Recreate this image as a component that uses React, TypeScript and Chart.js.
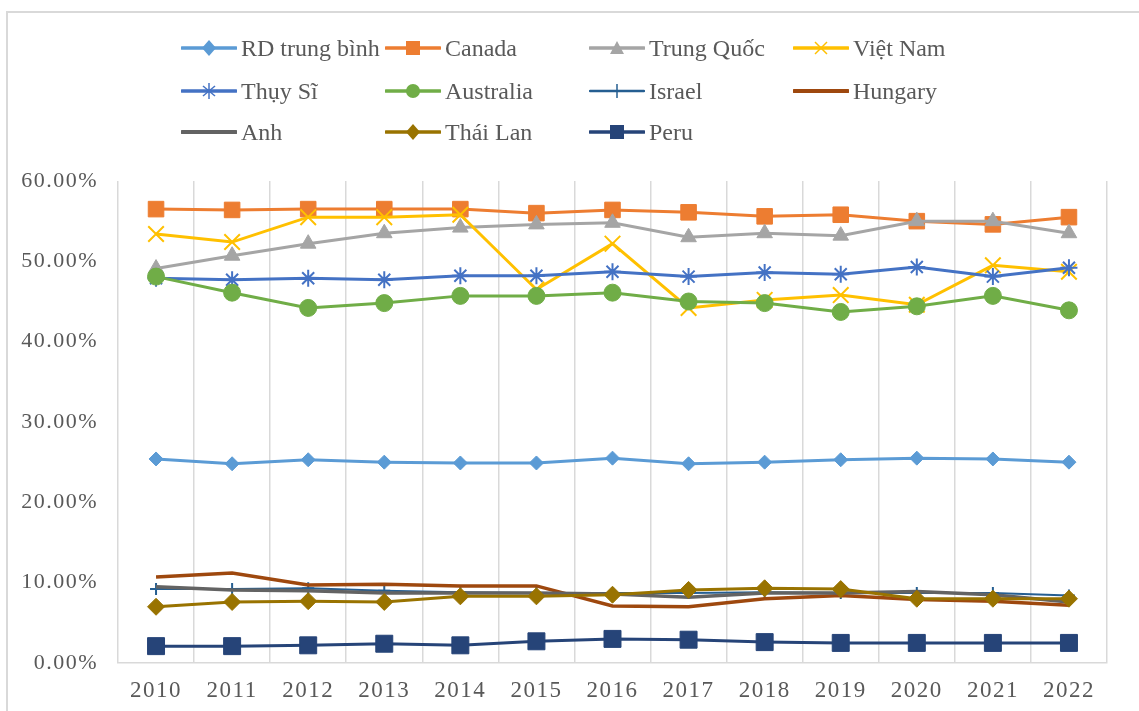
import React, { useEffect, useRef } from "react";
import { Chart, registerables } from "chart.js";

Chart.register(...registerables);

const years = ["2010", "2011", "2012", "2013", "2014", "2015", "2016", "2017", "2018", "2019", "2020", "2021", "2022"];

const rdTrungBinh = [25.4, 24.8, 25.3, 25.0, 24.9, 24.9, 25.5, 24.8, 25.0, 25.3, 25.5, 25.4, 25.0];
const canada = [56.5, 56.4, 56.5, 56.5, 56.5, 56.0, 56.4, 56.1, 55.6, 55.8, 55.0, 54.6, 55.5];
const trungQuoc = [49.1, 50.7, 52.2, 53.5, 54.2, 54.6, 54.8, 53.0, 53.5, 53.2, 55.0, 55.0, 53.5];
const vietNam = [53.4, 52.4, 55.5, 55.5, 55.8, 46.5, 52.2, 44.2, 45.2, 45.8, 44.6, 49.5, 48.7];
const thuySi = [47.9, 47.7, 47.9, 47.7, 48.2, 48.2, 48.7, 48.1, 48.6, 48.4, 49.3, 48.1, 49.2];
const australia = [48.1, 46.1, 44.2, 44.8, 45.7, 45.7, 46.1, 45.0, 44.8, 43.7, 44.4, 45.7, 43.9];
const israel = [9.2, 9.2, 9.3, 9.0, 8.8, 8.7, 8.7, 8.7, 8.8, 8.7, 8.7, 8.7, 8.4];
const hungary = [10.7, 11.2, 9.7, 9.8, 9.6, 9.6, 7.1, 7.0, 8.0, 8.4, 7.9, 7.7, 7.2];
const anh = [9.5, 9.1, 9.0, 8.7, 8.7, 8.7, 8.6, 8.2, 8.7, 8.7, 8.9, 8.5, 7.6];
const thaiLan = [7.0, 7.6, 7.7, 7.6, 8.3, 8.3, 8.5, 9.1, 9.3, 9.2, 8.0, 8.0, 8.0];
const peru = [2.1, 2.1, 2.2, 2.4, 2.2, 2.7, 3.0, 2.9, 2.6, 2.5, 2.5, 2.5, 2.5];

const yTicks = [0, 10, 20, 30, 40, 50, 60];

type Series = { label: string; data: number[]; color: string; style: string; radius: number; width: number };

const seriesList: Series[] = [
  { label: "RD trung bình", data: rdTrungBinh, color: "#5B9BD5", style: "rectRot", radius: 7, width: 3 },
  { label: "Canada", data: canada, color: "#ED7D31", style: "rect", radius: 11, width: 3 },
  { label: "Trung Quốc", data: trungQuoc, color: "#A5A5A5", style: "triangle", radius: 9, width: 3 },
  { label: "Việt Nam", data: vietNam, color: "#FFC000", style: "crossRot", radius: 11, width: 3 },
  { label: "Thụy Sĩ", data: thuySi, color: "#4472C4", style: "star", radius: 8.5, width: 3 },
  { label: "Australia", data: australia, color: "#70AD47", style: "circle", radius: 8.5, width: 3 },
  { label: "Israel", data: israel, color: "#255E91", style: "cross", radius: 6, width: 2 },
  { label: "Hungary", data: hungary, color: "#9E480E", style: "line", radius: 0, width: 3.5 },
  { label: "Anh", data: anh, color: "#636363", style: "line", radius: 0, width: 3.5 },
  { label: "Thái Lan", data: thaiLan, color: "#997300", style: "rectRot", radius: 8.5, width: 3 },
  { label: "Peru", data: peru, color: "#264478", style: "rect", radius: 12, width: 3 },
];

const FONT = "'Liberation Serif', 'Times New Roman', serif";
const TEXT = "#595959";
const GRID = "#D9D9D9";

function Swatch({ s }: { s: Series }) {
  const cx = 28, cy = 15;
  const c = s.color;
  let marker: React.ReactNode = null;
  if (s.style === "rectRot") {
    marker = <polygon points={`${cx},${cy - 8} ${cx + 7},${cy} ${cx},${cy + 8} ${cx - 7},${cy}`} fill={c} />;
  } else if (s.style === "rect") {
    marker = <rect x={cx - 7} y={cy - 7} width={14} height={14} fill={c} />;
  } else if (s.style === "triangle") {
    marker = <polygon points={`${cx},${cy - 7} ${cx + 7},${cy + 6} ${cx - 7},${cy + 6}`} fill={c} />;
  } else if (s.style === "crossRot") {
    marker = (
      <g stroke={c} strokeWidth={1.5}>
        <line x1={cx - 6} y1={cy - 6} x2={cx + 6} y2={cy + 6} />
        <line x1={cx - 6} y1={cy + 6} x2={cx + 6} y2={cy - 6} />
      </g>
    );
  } else if (s.style === "star") {
    marker = (
      <g stroke={c} strokeWidth={1.5}>
        <line x1={cx} y1={cy - 8} x2={cx} y2={cy + 8} />
        <line x1={cx - 6} y1={cy - 5} x2={cx + 6} y2={cy + 5} />
        <line x1={cx - 6} y1={cy + 5} x2={cx + 6} y2={cy - 5} />
      </g>
    );
  } else if (s.style === "circle") {
    marker = <circle cx={cx} cy={cy} r={7} fill={c} />;
  } else if (s.style === "cross") {
    marker = <line x1={cx} y1={cy - 7} x2={cx} y2={cy + 7} stroke={c} strokeWidth={1.5} />;
  }
  return (
    <svg width={56} height={30} style={{ display: "block" }}>
      <line x1={1} y1={cy} x2={55} y2={cy} stroke={c} strokeWidth={s.width + 0.5} strokeLinecap="round" />
      {marker}
    </svg>
  );
}

const spacingPlugin = {
  id: "letterSpacing",
  beforeDraw(chart: any) {
    try {
      chart.ctx.letterSpacing = "1.5px";
    } catch (e) {
      /* ignore */
    }
  },
};

export default function App() {
  const canvasRef = useRef<HTMLCanvasElement | null>(null);

  useEffect(() => {
    if (!canvasRef.current) return;
    const chart = new Chart(canvasRef.current, {
      type: "line",
      data: {
        labels: years,
        datasets: seriesList.map((s, i) => ({
          label: s.label,
          data: s.data,
          borderColor: s.color,
          backgroundColor: s.color,
          borderWidth: s.width,
          pointStyle: s.style as any,
          pointRadius: s.radius,
          pointBackgroundColor: s.color,
          pointBorderColor: s.color,
          pointBorderWidth: s.style === "crossRot" || s.style === "star" || s.style === "cross" ? 2 : 1,
          tension: 0,
          fill: false,
          order: -i,
        })),
      },
      plugins: [spacingPlugin],
      options: {
        responsive: false,
        animation: false,
        devicePixelRatio: 1,
        layout: { padding: { top: 181, right: 32, left: 0, bottom: 0 } },
        plugins: { legend: { display: false }, tooltip: { enabled: false } },
        scales: {
          x: {
            type: "category",
            offset: true,
            grid: { offset: true, color: GRID, lineWidth: 1.5, drawTicks: false },
            border: { color: GRID, width: 1.5 },
            ticks: { color: TEXT, font: { family: FONT, size: 23 }, padding: 14, maxRotation: 0, autoSkip: false },
            afterFit: (s: any) => { s.height = 48; },
          },
          y: {
            min: yTicks[0],
            max: yTicks[yTicks.length - 1],
            afterBuildTicks: (s: any) => { s.ticks = yTicks.map((v) => ({ value: v })); },
            grid: { display: false, drawTicks: false },
            border: { display: false },
            ticks: {
              color: TEXT,
              font: { family: FONT, size: 22 },
              padding: 20,
              callback: (v: any) => Number(v).toFixed(2) + "%",
            },
            afterFit: (s: any) => { s.width = 118; },
          },
        },
      },
    });
    return () => chart.destroy();
  }, []);

  const colX = [181, 385, 589, 793];
  const rowY = [48, 91, 132];

  return (
    <div style={{ position: "fixed", left: 0, top: 0, width: 1139, height: 711, background: "#fff", overflow: "hidden" }}>
      <div style={{ position: "absolute", left: 6, top: 11, width: 1300, height: 900, borderLeft: `2px solid ${GRID}`, borderTop: `2px solid ${GRID}` }} />
      <canvas ref={canvasRef} width={1139} height={711} style={{ position: "absolute", left: 0, top: 0, width: 1139, height: 711 }} />
      {seriesList.map((s, i) => {
        const col = i % 4;
        const row = Math.floor(i / 4);
        return (
          <div
            key={s.label}
            style={{
              position: "absolute",
              left: colX[col],
              top: rowY[row] - 15,
              height: 30,
              display: "flex",
              alignItems: "center",
              fontFamily: FONT,
              fontSize: 24,
              color: TEXT,
              whiteSpace: "nowrap",
            }}
          >
            <Swatch s={s} />
            <span style={{ marginLeft: 4 }}>{s.label}</span>
          </div>
        );
      })}
    </div>
  );
}
